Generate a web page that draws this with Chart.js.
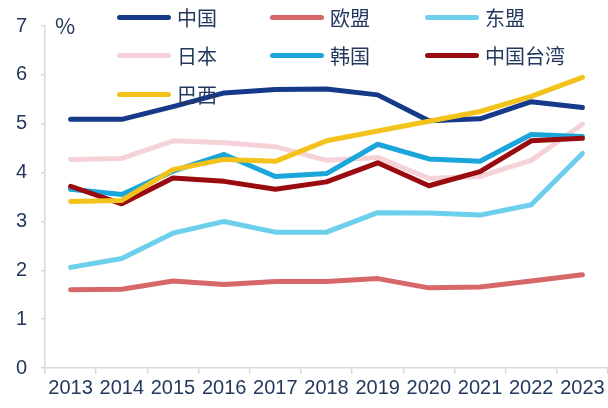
<!DOCTYPE html>
<html>
<head>
<meta charset="utf-8">
<script src="https://cdn.jsdelivr.net/npm/chart.js@4"></script>
<style>
  html,body{margin:0;padding:0;background:#fff;}
  #wrap{position:relative;width:608px;height:408px;font-family:"Noto Sans CJK SC","Liberation Sans",sans-serif;color:#24385e;}
  #wrap canvas{position:absolute;left:0;top:0;}
  .unit{position:absolute;left:55px;top:10px;font-size:22px;line-height:28px;}
  .lg{position:absolute;display:flex;align-items:center;height:28px;font-size:20px;}
  .lg i{display:inline-block;width:54px;height:5px;border-radius:3px;margin-right:6px;}
</style>
</head>
<body>
<div id="wrap">
  <canvas id="c" width="608" height="408"></canvas>
  <div class="unit">%</div>
  <div id="legend"></div>
</div>
<script>
/* --- DATA --- */
const years   = ['2013','2014','2015','2016','2017','2018','2019','2020','2021','2022','2023'];
const china   = [5.09,5.09,5.35,5.63,5.70,5.71,5.59,5.06,5.10,5.45,5.33];
const eu      = [1.60,1.61,1.78,1.71,1.77,1.77,1.83,1.64,1.66,1.78,1.91];
const asean   = [2.06,2.24,2.76,3.00,2.78,2.78,3.18,3.17,3.13,3.34,4.39];
const japan   = [4.27,4.29,4.65,4.61,4.53,4.25,4.31,3.88,3.92,4.25,4.99];
const korea   = [3.66,3.55,4.03,4.37,3.92,3.98,4.58,4.28,4.23,4.78,4.74];
const taiwan  = [3.72,3.36,3.89,3.82,3.66,3.81,4.20,3.73,4.02,4.65,4.70];
const brazil  = [3.41,3.43,4.06,4.27,4.23,4.65,4.85,5.05,5.25,5.56,5.95];
const yTicks  = [0,1,2,3,4,5,6,7];

/* --- SERIES (legend order, z order) --- */
const series = [
  {name:'中国',     data:china,  color:'#153a89', z:2},
  {name:'欧盟',     data:eu,     color:'#d8676a', z:6},
  {name:'东盟',     data:asean,  color:'#6ccfec', z:5},
  {name:'日本',     data:japan,  color:'#f5d2d8', z:7},
  {name:'韩国',     data:korea,  color:'#1aa6da', z:4},
  {name:'中国台湾', data:taiwan, color:'#9a0b0f', z:3},
  {name:'巴西',     data:brazil, color:'#f3c31b', z:1}
];

/* --- HTML LEGEND --- */
const colX = [117,270,425], rowY = [3,41,80];
document.getElementById('legend').innerHTML = series.map((s,i)=>
  `<div class="lg" style="left:${colX[i%3]}px;top:${rowY[Math.floor(i/3)]}px"><i style="background:${s.color}"></i>${s.name}</div>`
).join('');

/* --- CHART --- */
const tk = {font:{size:20,family:'Liberation Sans, Arial, sans-serif'},color:'#24385e'};
new Chart(document.getElementById('c'), {
  type:'line',
  data:{labels:years, datasets:series.map(s=>({
    label:s.name, data:s.data, borderColor:s.color, backgroundColor:s.color,
    borderWidth:5, pointRadius:0, tension:0, order:s.z,
    borderCapStyle:'round', borderJoinStyle:'round'
  }))},
  options:{
    responsive:false, animation:false,
    layout:{padding:{top:20,right:0,bottom:6,left:0}},
    plugins:{legend:{display:false},tooltip:{enabled:false}},
    scales:{
      x:{offset:true,
         grid:{offset:true,drawOnChartArea:false,color:'#d9d9d9',tickLength:6,lineWidth:1.5},
         border:{color:'#d9d9d9',width:1.5},
         ticks:{...tk,maxRotation:0,autoSkip:false,padding:2}},
      y:{min:0,max:7,
         afterBuildTicks:a=>{a.ticks=yTicks.map(v=>({value:v}));},
         afterFit:a=>{a.width=45;},
         grid:{drawOnChartArea:false,color:'#d9d9d9',tickLength:4,lineWidth:1.5},
         border:{color:'#d9d9d9',width:1.5},
         ticks:{...tk,padding:14}}
    }
  }
});
</script>
</body>
</html>
